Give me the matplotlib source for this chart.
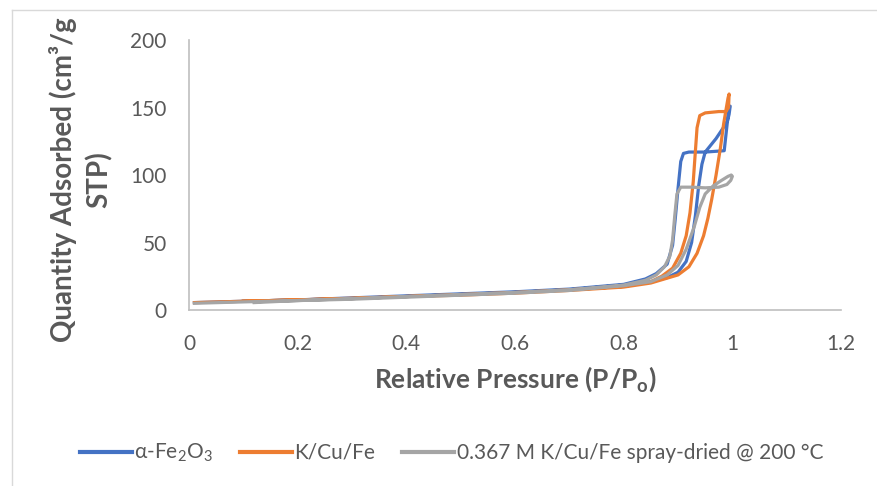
import matplotlib
matplotlib.use("Agg")
import matplotlib.pyplot as plt
from matplotlib.lines import Line2D

plt.rcParams['font.family'] = ['Lato', 'DejaVu Sans']
plt.rcParams['mathtext.fontset'] = 'custom'
plt.rcParams['mathtext.rm'] = 'Lato'
plt.rcParams['mathtext.bf'] = 'Lato:bold'
plt.rcParams['mathtext.default'] = 'regular'

# isotherm data: adsorption branch then desorption branch
fe2o3_p = [0.01, 0.1, 0.2, 0.3, 0.4, 0.5, 0.6, 0.7, 0.8, 0.85, 0.88, 0.9, 0.915, 0.925,
           0.932, 0.938, 0.944, 0.95, 0.97, 0.985, 0.991, 0.994, 0.996,
           0.993, 0.991, 0.985, 0.95, 0.92, 0.91, 0.905, 0.9, 0.895, 0.89, 0.88, 0.86,
           0.84, 0.8, 0.7, 0.6, 0.4, 0.2, 0.1]
fe2o3_q = [5.5, 6.5, 7.5, 8.5, 10, 11.5, 13, 15, 18.5, 21, 24, 28, 36, 50,
           70, 92, 108, 117, 127, 136, 140, 145, 151,
           150, 140, 118, 117, 117, 116, 110, 90, 68, 48, 34, 27,
           23, 19, 15.5, 13.5, 10.5, 7.5, 6.5]

kcufe_p = [0.01, 0.1, 0.2, 0.3, 0.4, 0.5, 0.6, 0.7, 0.8, 0.85, 0.9, 0.92, 0.935, 0.947,
           0.955, 0.962, 0.97, 0.978, 0.984, 0.989, 0.992, 0.994,
           0.993, 0.988, 0.975, 0.95, 0.94, 0.935, 0.932, 0.928, 0.922, 0.915, 0.905,
           0.89, 0.87, 0.85, 0.8, 0.7, 0.6, 0.4, 0.2, 0.1]
kcufe_q = [5.5, 6.5, 7.5, 8.5, 10, 11, 12.5, 14.5, 17, 20, 26, 32, 42, 55,
           68, 82, 100, 120, 138, 150, 157, 160,
           150, 147, 147, 146, 144, 135, 118, 95, 72, 55, 42,
           31, 25, 21, 17.5, 15, 13, 10, 7.5, 6.5]

spray_p = [0.01, 0.1, 0.2, 0.3, 0.4, 0.5, 0.6, 0.7, 0.8, 0.85, 0.88, 0.9, 0.915, 0.93,
           0.94, 0.95, 0.965, 0.98, 0.992, 0.998, 1.0,
           0.997, 0.99, 0.975, 0.95, 0.925, 0.905, 0.898, 0.894, 0.89, 0.885, 0.875,
           0.86, 0.84, 0.8, 0.7, 0.6, 0.4, 0.2, 0.12]
spray_q = [5, 6, 7, 8, 9.5, 11, 12.5, 14.5, 18, 21, 26, 33, 45, 62,
           76, 86, 92, 96, 99, 100, 99,
           96, 93, 91, 90.5, 91, 91, 86, 70, 52, 40, 32,
           26, 22, 18.5, 15, 13, 10, 7, 5.5]

x_ticks = [0, 0.2, 0.4, 0.6, 0.8, 1, 1.2]
x_tick_labels = ['0', '0.2', '0.4', '0.6', '0.8', '1', '1.2']
y_ticks = [0, 50, 100, 150, 200]

blue = '#4472C4'
orange = '#ED7D31'
gray = '#A5A5A5'
text_col = '#595959'

fig = plt.figure(figsize=(8.77, 4.86), dpi=100)
ax = fig.add_axes([0.2155, 0.3621, 0.7435, 0.5556])

ax.plot(fe2o3_p, fe2o3_q, color=blue, lw=2.3, solid_joinstyle='round')
ax.plot(kcufe_p, kcufe_q, color=orange, lw=2.3, solid_joinstyle='round')
ax.plot(spray_p, spray_q, color=gray, lw=2.3, solid_joinstyle='round')

ax.set_xlim(0, 1.2)
ax.set_ylim(0, 200)
ax.set_xticks(x_ticks)
ax.set_xticklabels(x_tick_labels)
ax.set_yticks(y_ticks)
ax.tick_params(length=0, labelsize=15, labelcolor=text_col)
ax.tick_params(axis='y', pad=16)
ax.tick_params(axis='x', pad=17)
for s in ['top', 'right']:
    ax.spines[s].set_visible(False)
for s in ['left', 'bottom']:
    ax.spines[s].set_color('#BFBFBF')
    ax.spines[s].set_linewidth(1.2)

ax.set_xlabel('Relative Pressure (P/P$_{\\mathbf{o}}$)', fontsize=19, fontweight='bold',
              color=text_col, labelpad=8)
fig.text(81 / 877, 1 - 180 / 486, 'Quantity Adsorbed (cm³/g\nSTP)', rotation=90,
         ha='center', va='center', multialignment='center', fontsize=20,
         fontweight='bold', color=text_col, linespacing=1.4)

handles = [Line2D([], [], color=c, lw=3) for c in (blue, orange, gray)]
labels = ['α-Fe$_2$O$_3$', 'K/Cu/Fe', '0.367 M K/Cu/Fe spray-dried @ 200 °C']
fig.legend(handles, labels, loc='center', bbox_to_anchor=(0.515, 33 / 486), ncol=3,
           frameon=False, fontsize=15, labelcolor=text_col, handlelength=2.5,
           handletextpad=0.1, columnspacing=1.3)

# light chart border on the left and top
fig.add_artist(Line2D([12 / 877, 12 / 877], [0, 1 - 10 / 486], color='#D9D9D9', lw=1,
                      transform=fig.transFigure))
fig.add_artist(Line2D([12 / 877, 1], [1 - 10 / 486, 1 - 10 / 486], color='#D9D9D9', lw=1,
                      transform=fig.transFigure))

fig.savefig('out.png', dpi=100)
